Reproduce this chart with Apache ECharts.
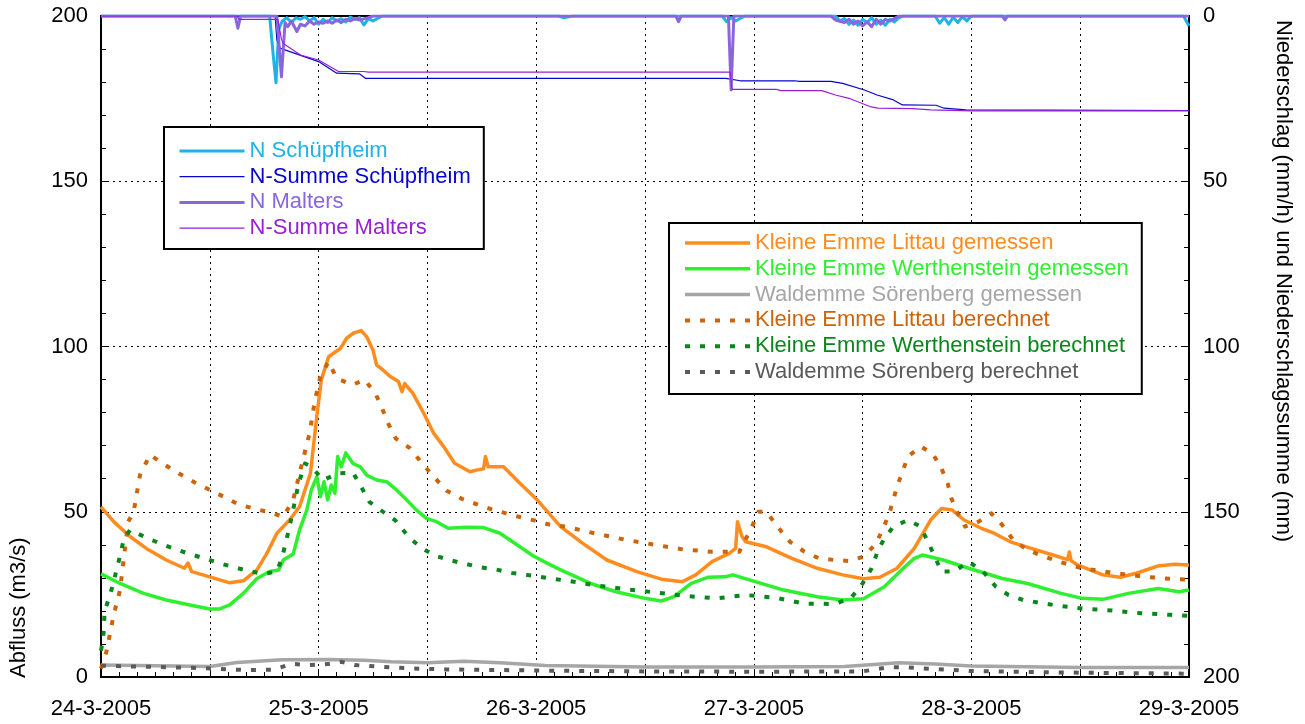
<!DOCTYPE html>
<html><head><meta charset="utf-8">
<script src="https://cdn.jsdelivr.net/npm/echarts@6/dist/echarts.min.js"></script>
<style>html,body{margin:0;padding:0;background:#fff}#c{width:1305px;height:724px}</style>
</head><body><div id="c"></div>
<script>
// x values are hours since 24-3-2005 00:00
const dateLabels = ['24-3-2005','25-3-2005','26-3-2005','27-3-2005','28-3-2005','29-3-2005'];

// Abfluss (m3/s), left axis
const littauGemessen = [[0,51.5],[1.4,47.0],[3.2,42.5],[5.0,38.9],[7.2,35.4],[9.2,32.9],[9.6,34.5],[10.0,31.9],[12.0,30.3],[14.2,28.5],[15.7,29.1],[17.2,32.4],[18.3,37.4],[19.4,43.5],[20.8,47.5],[21.9,51.5],[23.1,61.6],[23.8,78.8],[24.3,89.9],[25.1,96.9],[26.4,99.4],[27.1,102.5],[27.8,104.0],[28.7,104.8],[29.3,103.0],[30.0,98.9],[30.4,94.4],[31.1,92.9],[31.9,90.9],[32.8,89.4],[33.2,86.3],[33.5,88.8],[34.4,85.8],[35.6,79.8],[36.7,73.7],[37.8,69.7],[39.0,64.7],[40.7,62.1],[41.4,62.6],[42.2,63.0],[42.4,66.7],[42.7,63.6],[44.4,63.6],[46.2,58.6],[48.1,53.6],[50.7,45.5],[53.1,40.5],[55.8,35.4],[59.1,31.9],[61.8,29.6],[64.1,28.8],[65.6,30.9],[67.4,34.9],[69.3,37.4],[70.0,38.9],[70.2,47.0],[70.7,42.5],[71.1,40.9],[73.4,39.4],[76.2,35.9],[79.0,32.9],[81.8,30.9],[84.1,29.7],[85.9,30.2],[87.8,32.9],[89.7,38.9],[91.5,47.5],[92.7,51.0],[93.9,50.5],[95.2,47.5],[97.1,45.0],[98.5,43.5],[100.3,40.9],[102.6,38.9],[105.0,36.9],[106.6,35.5],[106.8,37.8],[107.0,35.2],[107.7,33.9],[110.5,30.9],[112.4,30.2],[114.2,31.4],[116.6,33.6],[118.4,34.1],[120,33.9]];
const werthensteinGemessen = [[0,31.2],[2.1,28.3],[4.7,25.3],[7.2,23.3],[9.8,21.8],[12.0,20.6],[13.1,20.6],[14.2,21.8],[15.7,25.3],[17.2,29.8],[18.6,31.9],[19.6,32.4],[20.1,35.4],[21.2,37.2],[21.9,44.5],[22.7,50.5],[23.2,56.6],[23.8,60.6],[24.2,54.6],[24.6,59.1],[25.0,53.6],[25.4,58.1],[25.8,55.6],[26.1,66.7],[26.5,63.6],[27.0,67.8],[27.8,64.6],[28.6,63.6],[29.3,61.1],[30.4,59.6],[31.5,59.1],[32.6,56.6],[33.7,53.6],[34.8,50.5],[35.9,48.0],[37.0,47.0],[38.3,45.0],[40.3,45.3],[42.2,45.2],[44.0,43.5],[46.2,39.4],[47.7,36.6],[49.3,34.3],[50.7,32.4],[54.0,28.3],[56.8,25.8],[60.0,23.8],[61.8,23.0],[63.2,24.3],[65.1,28.3],[67.0,30.2],[68.8,30.3],[69.7,30.9],[71.6,29.3],[75.3,26.3],[79.0,24.3],[81.8,23.3],[84.1,23.7],[86.4,27.3],[88.3,32.4],[89.7,35.9],[90.6,36.9],[92.9,35.4],[95.7,32.9],[99.4,29.8],[102.2,28.3],[105.9,25.3],[108.2,23.8],[110.5,23.5],[113.3,25.3],[116.6,26.8],[118.9,25.8],[120,26.3]];
const soerenbergGemessen = [[0,3.6],[12,3.2],[15,4.4],[20,5.2],[25,5.3],[29,5.1],[32,4.6],[36,4.3],[40,4.8],[44,4.3],[49,3.5],[60,3.0],[72,3.0],[82,3.2],[88,4.3],[92,3.9],[96,3.3],[108,2.9],[120,2.9]];
const littauBerechnet = [[0,2.5],[0.25,4.6],[0.6,7.7],[1.4,18.8],[2.1,26.3],[3.0,47.0],[3.6,50.0],[4.3,61.1],[5.4,67.2],[7.1,64.1],[8.7,61.4],[10.4,58.8],[12.0,56.6],[13.5,54.6],[15.1,52.3],[16.8,51.0],[18.5,49.9],[20.1,48.5],[21.2,53.6],[21.9,61.6],[22.5,68.2],[23.0,73.7],[23.6,83.8],[24.2,90.9],[25.1,95.4],[26.0,90.4],[27.7,88.4],[29.1,89.9],[30.3,85.6],[31.0,81.3],[31.7,76.6],[32.5,72.2],[34.1,69.2],[35.4,64.7],[36.7,60.6],[38.1,56.4],[39.8,53.9],[41.4,52.3],[43.1,50.7],[44.7,49.5],[46.2,48.4],[47.9,47.3],[49.3,46.2],[51.2,45.5],[54.4,43.5],[57.7,41.6],[60.9,40.1],[64.2,38.6],[67.4,37.9],[70.4,37.9],[71.8,45.5],[72.5,50.0],[73.4,50.0],[74.6,45.5],[76.0,40.9],[77.6,37.9],[79.2,35.9],[80.9,35.4],[82.5,35.1],[84.1,36.4],[85.5,40.4],[86.9,49.0],[87.8,57.6],[89.0,66.7],[90.4,69.7],[91.7,67.7],[92.7,63.1],[93.4,58.4],[93.8,54.0],[94.5,49.5],[95.3,45.5],[96.8,47.0],[98.2,49.5],[99.4,46.0],[100.6,41.5],[102.2,38.4],[104.1,36.4],[105.9,34.7],[108.2,32.9],[111.9,31.4],[115.2,30.3],[118.4,29.6],[120,29.5]];
const werthensteinBerechnet = [[0,8],[0.25,11.7],[0.4,19.8],[1.2,26.8],[1.9,34.4],[2.5,41.5],[3.2,44.5],[4.9,42.3],[6.5,40.4],[8.2,38.7],[9.8,37.2],[11.5,35.8],[13.1,34.4],[14.7,33.2],[16.2,32.1],[17.9,31.2],[19.4,31.9],[20.0,36.4],[20.8,45.5],[21.8,58.6],[22.5,64.6],[23.2,63.6],[24.5,59.6],[26.2,61.6],[27.8,61.8],[28.8,57.0],[29.6,53.0],[31.1,50.0],[32.5,47.3],[33.9,42.5],[35.4,38.9],[37.0,36.6],[38.7,35.2],[40.4,34.1],[41.8,33.2],[43.6,32.5],[45.3,31.5],[46.9,30.9],[48.4,30.3],[51.7,29.0],[54.9,27.6],[58.1,26.5],[61.4,25.5],[64.6,24.5],[67.9,23.8],[71.1,24.8],[74.4,24.0],[77.6,22.2],[80.9,22.1],[82.7,23.8],[84.0,28.3],[85.0,32.9],[85.7,38.4],[86.4,41.9],[87.4,45.5],[89.0,47.5],[90.4,45.5],[91.3,40.4],[92.7,31.9],[94.1,31.9],[95.7,34.9],[97.3,31.9],[98.7,27.3],[100.1,24.8],[101.7,23.3],[105.0,21.8],[108.2,20.7],[111.5,20.1],[114.7,19.3],[118.0,18.8],[120,18.5]];
const soerenbergBerechnet = [[0,3.4],[10,2.8],[16,2.1],[19,2.2],[21,4.0],[23,3.6],[25,3.9],[26.5,4.6],[28,3.6],[31,3.1],[34,2.6],[38,2.3],[44,2.1],[50,1.9],[60,1.7],[72,1.6],[84,1.7],[87,3.0],[89,2.9],[92,2.4],[96,1.8],[108,1.3],[120,1.0]];

// Niederschlag (mm/h) and Niederschlagssumme (mm), right inverted axis
const nSchuepfheim = [[0,0],[18.6,0],[19.0,12],[19.3,20.2],[19.6,4],[20,1.5],[20.5,0.5],[21,2],[21.5,0.5],[22,1],[22.5,0.2],[23,1.5],[23.5,0.5],[24,2.5],[24.5,1],[25,2],[25.5,0.5],[26,1.5],[26.5,0.8],[27,1.8],[27.5,0.3],[28,1],[28.5,0.5],[29,2.7],[29.5,0.8],[30,1.5],[31,0],[50.5,0],[51,0.5],[52,0],[68.5,0],[69,1.7],[69.5,0.5],[70,1.5],[71,0],[81,0],[81.5,1.5],[82,0.8],[82.5,2.5],[83,1.2],[83.5,2.8],[84,1],[84.5,2],[85,0.5],[85.5,2.5],[86,1.2],[86.5,2.8],[87,1],[87.5,1.8],[88,0.5],[88.5,0],[92,0],[92.5,2.2],[93,0.5],[93.5,2.5],[94,0.3],[94.5,2],[95,0.2],[95.5,1.5],[96,0],[119.4,0],[120,3]];
const nSummeSchuepfheim = [[0,0],[19.2,0],[19.4,7.3],[19.8,9.8],[24,13.8],[26,17.3],[28.5,17.5],[29.2,18.9],[68.9,18.9],[70.5,19.6],[76.5,19.6],[77,19.8],[80.5,19.8],[81.8,20.4],[84.2,22.4],[85.6,23.9],[87.4,25.4],[88.4,26.9],[92.1,27.0],[93,27.9],[95.4,28.4],[120,28.6]];
const nMalters = [[0,0],[14.8,0],[15.1,3.7],[15.4,0],[19.4,0],[19.9,18.4],[20.3,2],[20.6,3.2],[21,1.5],[21.6,4.7],[22,2.5],[22.5,3],[23,1.5],[23.5,2.5],[24,1.8],[24.5,2.2],[25,1.5],[25.5,2.2],[26,1.2],[26.5,2],[27,1],[27.5,1.5],[28,0.8],[28.5,1.2],[29.5,0.5],[30,0],[63.4,0],[63.7,1.7],[64,0],[69.2,0],[69.5,22.4],[69.8,0],[80.5,0],[81,1.2],[82,2],[82.5,1],[83,2.5],[83.5,1.5],[84,3],[84.5,1.8],[85,3.2],[85.5,1],[86,2.5],[86.5,1],[87,1.5],[88,0],[99.4,0],[99.7,1.2],[100,0],[120,0]];
const nSummeMalters = [[0,0],[15.0,0],[15.2,1.0],[19.5,1.0],[19.9,7],[20.1,8.3],[22,11.8],[24,13.3],[26.2,16.8],[29,16.8],[29.5,17.0],[69.4,17.0],[69.6,22.2],[74.5,22.2],[75,22.6],[79.5,22.6],[81,23.9],[82.5,24.9],[84.8,27.4],[85.7,27.9],[89.5,28.0],[91.5,28.4],[96,28.7],[120,28.7]];

const FONT = 'Liberation Sans, Arial, Helvetica, sans-serif';
const FS = 22;

function mk(name, data, color, width, dashed, yIdx, z) {
  return {
    name: name, type: 'line', data: data, yAxisIndex: yIdx, symbol: 'none', z: z,
    animation: false, silent: true,
    itemStyle: { color: color },
    lineStyle: { color: color, width: width, type: dashed ? [5, 10] : 'solid', cap: 'butt', join: 'round' }
  };
}

const series = [
  mk('N Schüpfheim', nSchuepfheim, '#1eb2e6', 3, false, 1, 3),
  mk('N-Summe Schüpfheim', nSummeSchuepfheim, '#0505cc', 1.2, false, 1, 3),
  mk('N Malters', nMalters, '#8a66de', 3, false, 1, 3),
  mk('N-Summe Malters', nSummeMalters, '#9a1ed6', 1.2, false, 1, 3),
  mk('Kleine Emme Littau gemessen', littauGemessen, '#ff8c1e', 3.5, false, 0, 2),
  mk('Kleine Emme Werthenstein gemessen', werthensteinGemessen, '#2ef02e', 3.5, false, 0, 2),
  mk('Waldemme Sörenberg gemessen', soerenbergGemessen, '#a6a6a6', 3.5, false, 0, 2),
  mk('Kleine Emme Littau berechnet', littauBerechnet, '#cc640a', 4, true, 0, 2),
  mk('Kleine Emme Werthenstein berechnet', werthensteinBerechnet, '#0a861c', 4, true, 0, 2),
  mk('Waldemme Sörenberg berechnet', soerenbergBerechnet, '#5a5a5a', 4, true, 0, 2)
];

function legendData(names) {
  return names.map(n => {
    const s = series.find(x => x.name === n);
    return { name: n, textStyle: { color: s.lineStyle.color } };
  });
}

const legendCommon = {
  orient: 'vertical', itemWidth: 65, itemHeight: 14,
  borderColor: '#000', borderWidth: 2, backgroundColor: '#fff',
  borderRadius: 0, selectedMode: false, z: 10,
  itemStyle: { opacity: 0, borderWidth: 0 },
  lineStyle: { width: 'inherit', type: 'inherit', color: 'inherit' },
  textStyle: { fontFamily: FONT, fontSize: FS, lineHeight: 22 }
};

const dotted = { color: '#000', width: 1, type: [2, 4] };

const option = {
  backgroundColor: '#fff',
  animation: false,
  grid: { left: 101, right: 116, top: 16, bottom: 47, show: true, borderColor: '#000', borderWidth: 2, backgroundColor: 'transparent', containLabel: false, outerBoundsMode: 'none' },
  legend: [
    Object.assign({}, legendCommon, {
      left: 164, top: 127, itemGap: 3.7, padding: [13, 13, 10, 14],
      data: legendData(['N Schüpfheim', 'N-Summe Schüpfheim', 'N Malters', 'N-Summe Malters'])
    }),
    Object.assign({}, legendCommon, {
      left: 669, top: 223, itemGap: 3.8, padding: [9, 13, 11, 14],
      data: legendData(['Kleine Emme Littau gemessen', 'Kleine Emme Werthenstein gemessen', 'Waldemme Sörenberg gemessen',
        'Kleine Emme Littau berechnet', 'Kleine Emme Werthenstein berechnet', 'Waldemme Sörenberg berechnet'])
    })
  ],
  xAxis: {
    type: 'value', min: 0, max: 120, interval: 12,
    axisLine: { show: true, onZero: false, lineStyle: { color: '#000', width: 2 } },
    axisTick: { show: true, inside: true, length: 8, lineStyle: { color: '#000', width: 1 } },
    minorTick: { show: true, splitNumber: 6, length: 5, lineStyle: { color: '#000', width: 1 } },
    splitLine: { show: true, lineStyle: dotted },
    minorSplitLine: { show: false },
    axisLabel: {
      color: '#000', fontFamily: FONT, fontSize: FS, margin: 21,
      showMinLabel: true, showMaxLabel: true,
      formatter: v => (v % 24 === 0 ? dateLabels[v / 24] : '')
    }
  },
  yAxis: [
    {
      type: 'value', min: 0, max: 200, interval: 50, position: 'left',
      axisLine: { show: true, lineStyle: { color: '#000', width: 2 } },
      axisTick: { show: true, inside: true, length: 8, lineStyle: { color: '#000' } },
      minorTick: { show: true, splitNumber: 5, length: 5, lineStyle: { color: '#000' } },
      splitLine: { show: true, lineStyle: dotted },
      axisLabel: { color: '#000', fontFamily: FONT, fontSize: FS, margin: 13 }
    },
    {
      type: 'value', min: 0, max: 200, interval: 50, position: 'right', inverse: true,
      axisLine: { show: true, lineStyle: { color: '#000', width: 2 } },
      axisTick: { show: true, inside: true, length: 8, lineStyle: { color: '#000' } },
      minorTick: { show: true, splitNumber: 5, length: 5, lineStyle: { color: '#000' } },
      splitLine: { show: false },
      axisLabel: { color: '#000', fontFamily: FONT, fontSize: FS, margin: 14 }
    }
  ],
  graphic: [
    { type: 'text', x: 19, y: 678, rotation: Math.PI / 2, silent: true,
      style: { text: 'Abfluss (m3/s)', fill: '#000', font: FS + 'px ' + FONT, textAlign: 'left', textVerticalAlign: 'middle' } },
    { type: 'text', x: 1283, y: 20, rotation: -Math.PI / 2, silent: true,
      style: { text: 'Niederschlag (mm/h) und Niederschlagssumme (mm)', fill: '#000', font: FS + 'px ' + FONT, textAlign: 'left', textVerticalAlign: 'middle' } }
  ],
  series: series
};

const chart = echarts.init(document.getElementById('c'), null, { renderer: 'canvas' });
chart.setOption(option);
</script>
</body></html>
